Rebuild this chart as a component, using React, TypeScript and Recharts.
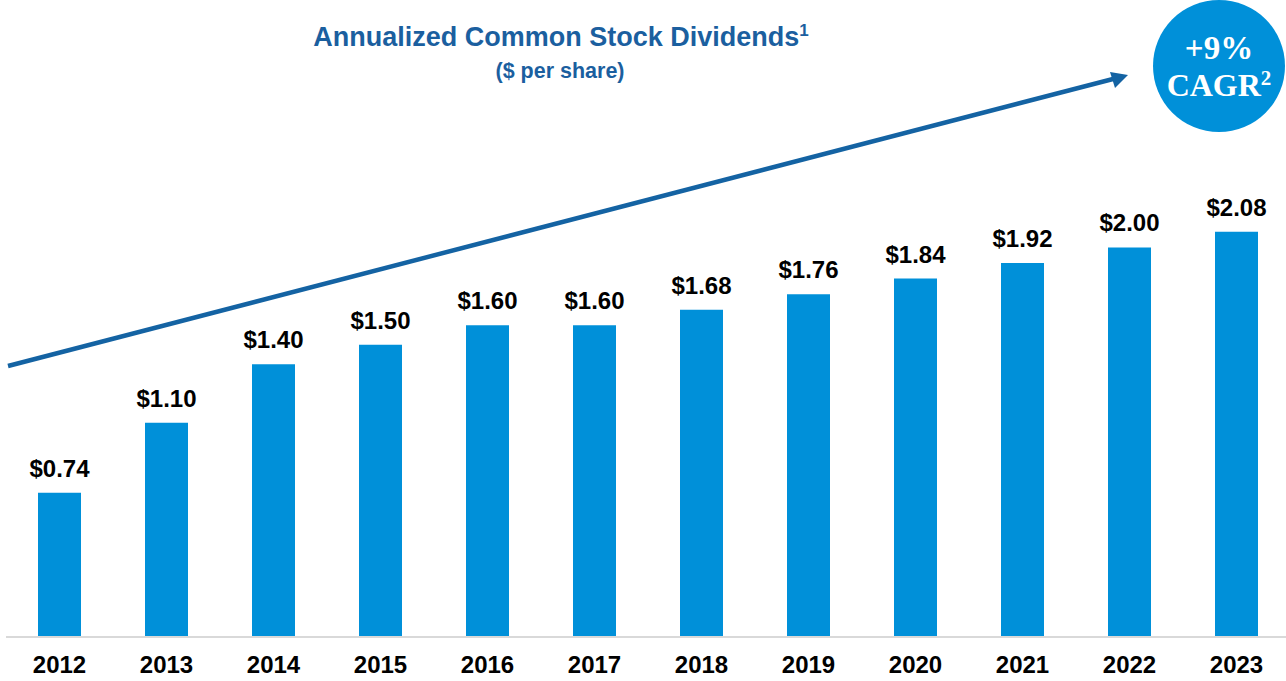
import React from "react";
import { BarChart, Bar, XAxis, YAxis, LabelList } from "recharts";

const years = ["2012", "2013", "2014", "2015", "2016", "2017", "2018", "2019", "2020", "2021", "2022", "2023"];
const dividends = [0.74, 1.1, 1.4, 1.5, 1.6, 1.6, 1.68, 1.76, 1.84, 1.92, 2.0, 2.08];
const titleText = "Annualized Common Stock Dividends";
const subtitleText = "($ per share)";
const badgeTop = "+9%";
const badgeBottom = "CAGR";

const data = years.map((y, i) => ({ year: y, value: dividends[i] }));

const BAR = "#0090d9";
const TITLE = "#1b5f9f";
const FONT = "'Liberation Sans', Arial, sans-serif";
const SERIF = "'Liberation Serif', 'DejaVu Serif', serif";

const YearTick = (props: any) => {
  const { x, y, payload } = props;
  return (
    <text x={x} y={y + 36} textAnchor="middle" fontFamily={FONT} fontWeight="bold" fontSize={24} fill="#000">
      {payload.value}
    </text>
  );
};

export default function App() {
  return (
    <div style={{ position: "absolute", left: 0, top: 0, width: 1286, height: 681, overflow: "hidden", background: "#fff" }}>
      <BarChart
        width={1290}
        height={681}
        data={data}
        margin={{ top: 150, right: 0, left: 6, bottom: 0 }}
        barCategoryGap={0}
      >
        <YAxis hide domain={[0, 2.5]} />
        <XAxis
          dataKey="year"
          height={44}
          tickLine={false}
          tickSize={0}
          tickMargin={0}
          axisLine={{ stroke: "#d9d9d9", strokeWidth: 2 }}
          tick={<YearTick />}
          interval={0}
        />
        <Bar dataKey="value" fill={BAR} barSize={43} isAnimationActive={false}>
          <LabelList
            dataKey="value"
            position="top"
            offset={16}
            formatter={(v: any) => `$${Number(v).toFixed(2)}`}
            style={{ fontFamily: FONT, fontWeight: "bold", fontSize: 24, fill: "#000" }}
          />
        </Bar>
      </BarChart>
      <svg width={1286} height={681} style={{ position: "absolute", left: 0, top: 0, pointerEvents: "none" }}>
        <text x={561} y={46} textAnchor="middle" fontFamily={FONT} fontWeight="bold" fontSize={27} fill={TITLE}>
          {titleText}
          <tspan fontSize={17} dy={-10}>1</tspan>
        </text>
        <text x={560} y={78} textAnchor="middle" fontFamily={FONT} fontWeight="bold" fontSize={21.5} fill={TITLE}>
          {subtitleText}
        </text>
        <line x1={8} y1={366} x2={1113} y2={79} stroke="#1463a3" strokeWidth={4.5} />
        <polygon points="1128,75 1110,72 1115,88" fill="#1463a3" />
        <circle cx={1219} cy={66} r={66} fill={BAR} />
        <text x={1219} y={59} textAnchor="middle" fontFamily={SERIF} fontWeight="bold" fontSize={33} fill="#fff">
          {badgeTop}
        </text>
        <text x={1219} y={96} textAnchor="middle" fontFamily={SERIF} fontWeight="bold" fontSize={32} fill="#fff">
          {badgeBottom}
          <tspan fontSize={21} dy={-11}>2</tspan>
        </text>
      </svg>
    </div>
  );
}
